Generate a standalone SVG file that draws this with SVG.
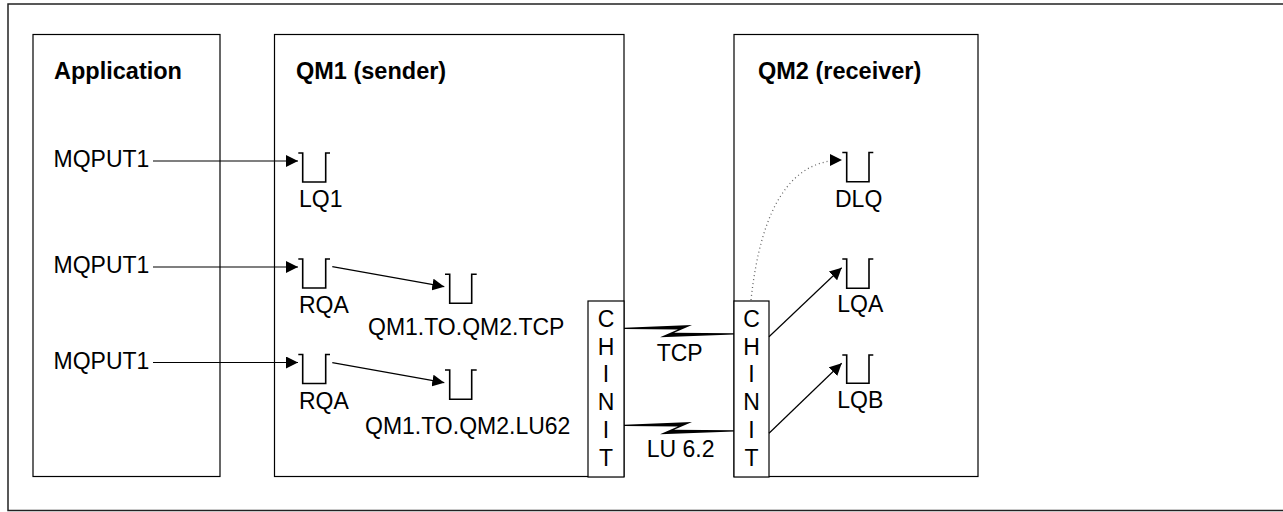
<svg xmlns="http://www.w3.org/2000/svg" width="1283" height="512" viewBox="0 0 1283 512">
<style>
.box{fill:#fff;stroke:#000;stroke-width:1.2}
.frame{fill:none;stroke:#222;stroke-width:1.5}
.q{fill:none;stroke:#000;stroke-width:1.6}
.t{font-family:"Liberation Sans",Arial,sans-serif;font-size:23px;fill:#000}
.b{font-family:"Liberation Sans",Arial,sans-serif;font-size:23.5px;font-weight:bold;fill:#000}
.c{font-family:"Liberation Sans",Arial,sans-serif;font-size:23px;fill:#000;text-anchor:middle}
.ln{fill:none;stroke:#000;stroke-width:1.2}
.dot{fill:none;stroke:#666;stroke-width:1.3;stroke-dasharray:1 3}
.bolt{fill:#000;stroke:none}
</style>
<defs>
<marker id="ah" markerUnits="userSpaceOnUse" markerWidth="12" markerHeight="12" viewBox="0 0 12 12" refX="12" refY="6" orient="auto">
<path d="M0,0 L12,6 L0,12 z" fill="#000"/>
</marker>
</defs>
<rect class="frame" x="8" y="4" width="1290" height="506.5"/>
<g id="application">
<rect class="box" x="33" y="34.5" width="187" height="442"/>
<text class="b" x="54" y="79">Application</text>
<text class="t" x="53.5" y="167">MQPUT1</text>
<text class="t" x="53.5" y="273">MQPUT1</text>
<text class="t" x="53.5" y="368.5">MQPUT1</text>
</g>
<g id="qm1">
<rect class="box" x="274.5" y="34.5" width="349.5" height="442"/>
<text class="b" x="296" y="79">QM1 (sender)</text>
</g>
<g id="qm2">
<rect class="box" x="734" y="34.5" width="244" height="442"/>
<text class="b" x="758" y="79">QM2 (receiver)</text>
</g>
<g id="lq1">
<path class="q" d="M298.3,153 H302.7 V182 H325.7 V153 H330"/>
<text class="t" x="299" y="207">LQ1</text>
</g>
<g id="rqa1">
<path class="q" d="M298.3,259 H302.7 V288 H325.7 V259 H330"/>
<text class="t" x="299" y="313">RQA</text>
</g>
<g id="rqa2">
<path class="q" d="M298.3,354.5 H302.7 V383.5 H325.7 V354.5 H330"/>
<text class="t" x="299" y="409">RQA</text>
</g>
<g id="xmitq-tcp">
<path class="q" d="M445,274.3 H449.7 V303.3 H471.7 V274.3 H476.7"/>
<text class="t" x="368" y="335">QM1.TO.QM2.TCP</text>
</g>
<g id="xmitq-lu62">
<path class="q" d="M445,370 H449.7 V399.3 H471.7 V370 H476.7"/>
<text class="t" x="365" y="434.3">QM1.TO.QM2.LU62</text>
</g>
<g id="chinit1">
<rect class="box" x="588" y="301" width="36" height="176"/>
<text class="c" x="606" y="326.7">C</text>
<text class="c" x="606" y="354.5">H</text>
<text class="c" x="606" y="382.3">I</text>
<text class="c" x="606" y="410.1">N</text>
<text class="c" x="606" y="437.9">I</text>
<text class="c" x="606" y="465.7">T</text>
</g>
<g id="chinit2">
<rect class="box" x="734" y="301" width="35" height="176"/>
<text class="c" x="751.5" y="326.7">C</text>
<text class="c" x="751.5" y="354.5">H</text>
<text class="c" x="751.5" y="382.3">I</text>
<text class="c" x="751.5" y="410.1">N</text>
<text class="c" x="751.5" y="437.9">I</text>
<text class="c" x="751.5" y="465.7">T</text>
</g>
<g id="dlq">
<path class="q" d="M842.3,152.5 H846.7 V181.7 H869 V152.5 H873.3"/>
<text class="t" x="835" y="206.7">DLQ</text>
</g>
<g id="lqa">
<path class="q" d="M842.3,259 H846.7 V288.3 H869 V259 H873.3"/>
<text class="t" x="837.3" y="312.3">LQA</text>
</g>
<g id="lqb">
<path class="q" d="M842.3,355 H846.7 V383.3 H869 V355 H873.3"/>
<text class="t" x="837.3" y="407.7">LQB</text>
</g>
<g id="connectors">
<line class="ln" x1="153" y1="161" x2="298" y2="161" marker-end="url(#ah)"/>
<line class="ln" x1="153" y1="267" x2="298" y2="267" marker-end="url(#ah)"/>
<line class="ln" x1="153" y1="362.5" x2="298" y2="362.5" marker-end="url(#ah)"/>
<line class="ln" x1="332.3" y1="266.7" x2="444.3" y2="286.7" marker-end="url(#ah)"/>
<line class="ln" x1="332.3" y1="362.7" x2="444.3" y2="382.7" marker-end="url(#ah)"/>
<line class="ln" x1="769" y1="336.7" x2="841.7" y2="267.7" marker-end="url(#ah)"/>
<line class="ln" x1="769" y1="433.3" x2="841.7" y2="363.3" marker-end="url(#ah)"/>
<path class="dot" d="M751,300 Q766,160 842,160"/>
<path d="M830,154 L842,160 L830,166 z" fill="#000"/>
<polygon class="bolt" points="624,327.8 692,325 674,332.8 734,333.3 734,334.6 660,337.2 678,329.4 624,329"/>
<polygon class="bolt" points="624,424.8 692,422 674,429.8 734,430.3 734,431.6 660,434.2 678,426.4 624,426"/>
<text class="t" x="656.7" y="360.7">TCP</text>
<text class="t" x="646.7" y="456.7">LU 6.2</text>
</g>
</svg>
